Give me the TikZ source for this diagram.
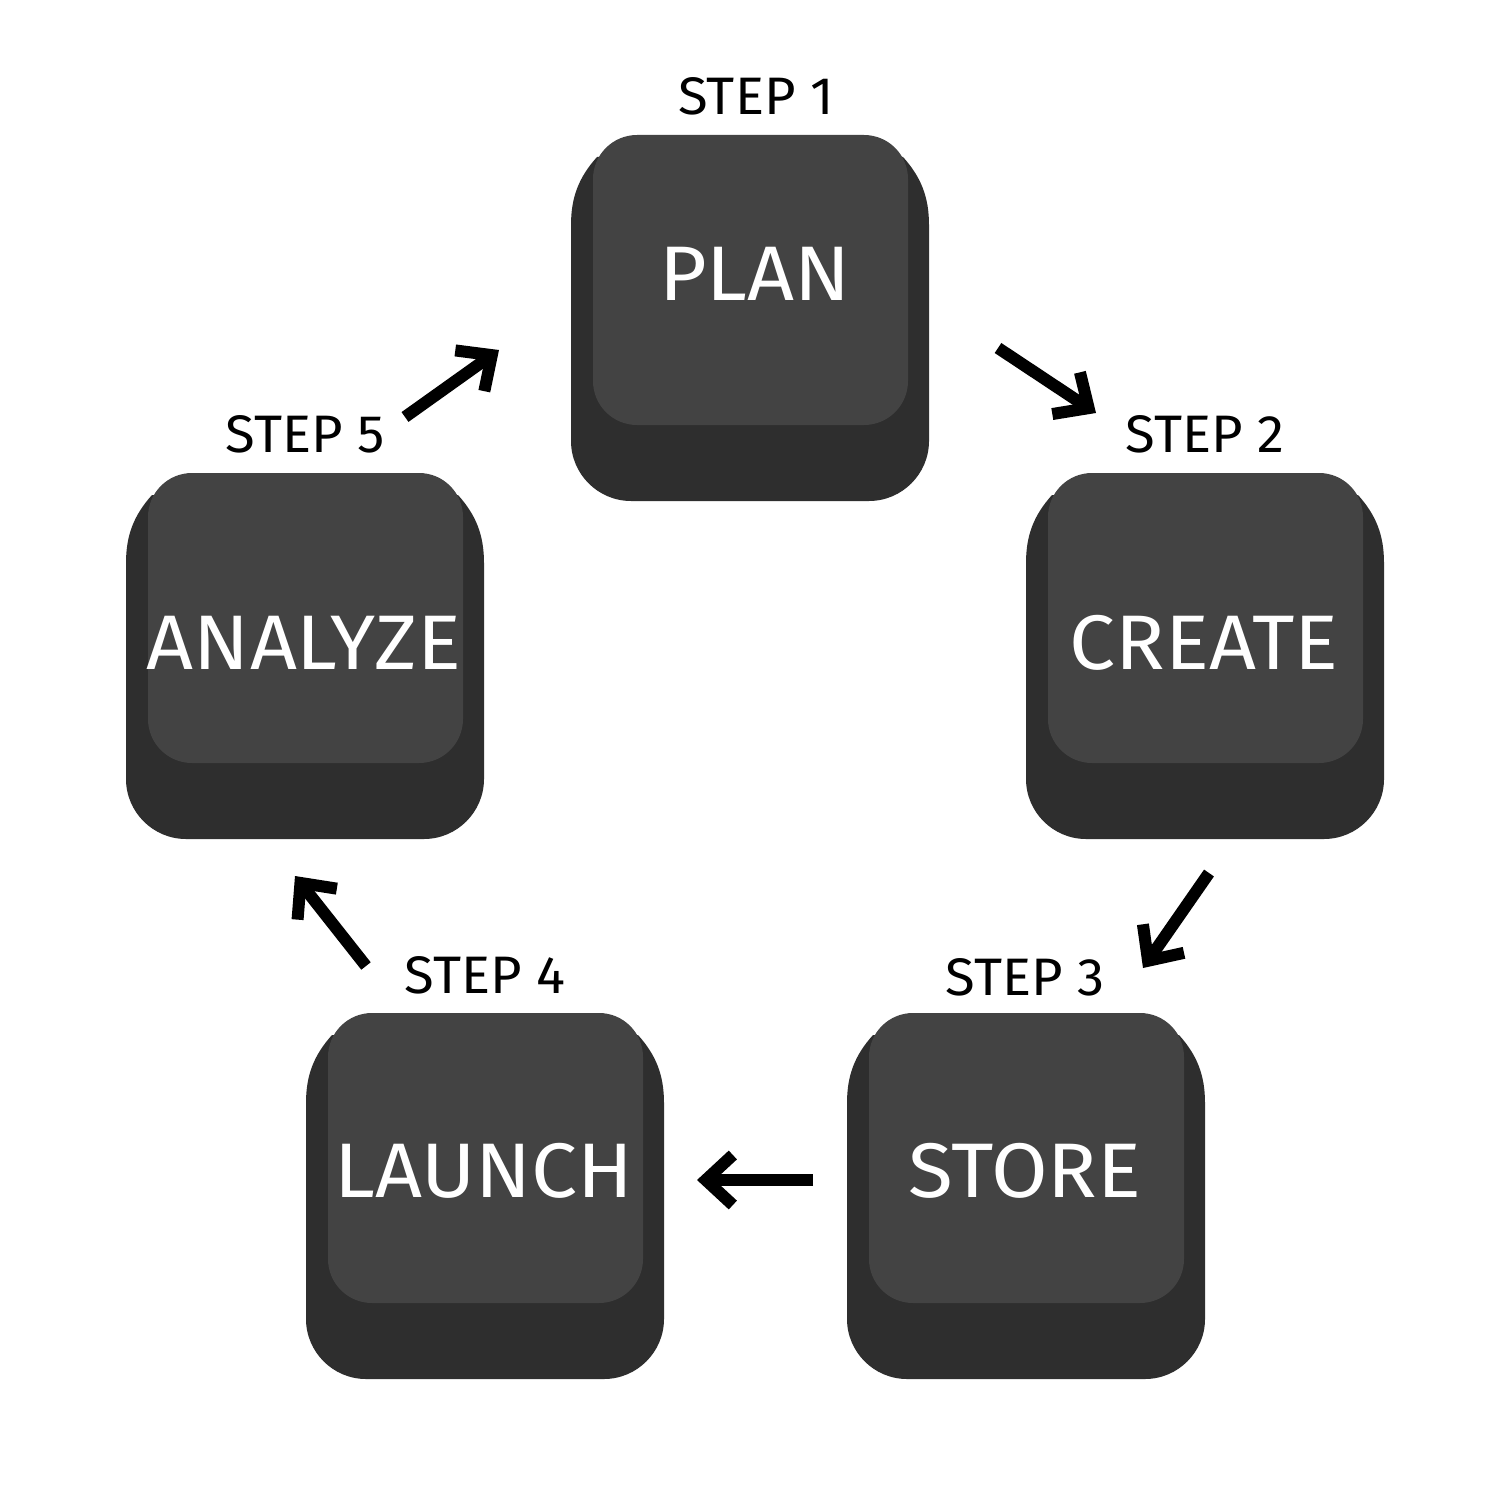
\documentclass[tikz,border=0pt]{standalone}
\usepackage{fontspec}
\setmainfont{Fira Sans}
\newfontfamily\keyfont[FakeStretch=1.06]{Fira Sans}
\newfontfamily\stepfont[FakeStretch=1.03]{Fira Sans}
\usetikzlibrary{arrows.meta}
\definecolor{keybasec}{HTML}{2E2E2E}
\definecolor{keytopc}{HTML}{434343}
\tikzset{
  keybase/.style={fill=keybasec},
  keytop/.style={fill=keytopc, rounded corners=0.44cm},
  keylabel/.style={text=white, inner sep=0pt, font=\keyfont\fontsize{22}{24}\selectfont},
  steplabel/.style={text=black, inner sep=0pt, font=\stepfont\fontsize{15}{17}\selectfont},
  flowarrow/.style={line width=0.12cm, -{Straight Barb[length=0.27cm,width=0.5cm]}}
}
\newcommand\keycap[6]{%
  \fill[keybase] ({#2+26},{#3+22}) -- ({#2+332},{#3+22})
    .. controls ({#2+350},{#3+42}) and ({#2+358},{#3+62}) .. ({#2+358},{#3+90})
    -- ({#2+358},{#3+306})
    .. controls ({#2+358},{#3+339}) and ({#2+331},{#3+366}) .. ({#2+298},{#3+366})
    -- ({#2+60},{#3+366})
    .. controls ({#2+27},{#3+366}) and ({#2},{#3+339}) .. ({#2},{#3+306})
    -- ({#2},{#3+90})
    .. controls ({#2},{#3+62}) and ({#2+8},{#3+42}) .. ({#2+26},{#3+22}) -- cycle;
  \fill[keytop] ({#2+22},#3) rectangle ({#2+337},{#3+290});
  \node[keylabel] (#1) at (#5,#6) {#4};
}
\begin{document}
\begin{tikzpicture}[x=0.01cm,y=-0.01cm]
\fill[white] (0,0) rectangle (1500,1500);
\useasboundingbox (0,0) rectangle (1500,1500);

\keycap{plan}{571}{135}{PLAN}{755}{274}
\keycap{create}{1026}{473}{CREATE}{1204}{643}
\keycap{analyze}{126}{473}{ANALYZE}{304}{643}
\keycap{store}{847}{1013}{STORE}{1025}{1171}
\keycap{launch}{306}{1013}{LAUNCH}{484}{1171}

\node[steplabel] (s1) at (756,96) {STEP 1};
\node[steplabel] (s2) at (1205,434) {STEP 2};
\node[steplabel] (s3) at (1025,977) {STEP 3};
\node[steplabel] (s4) at (485,975) {STEP 4};
\node[steplabel] (s5) at (305,434) {STEP 5};

\coordinate (a1s) at (998,348);  \coordinate (a1e) at (1096,413);
\coordinate (a2s) at (1209,873); \coordinate (a2e) at (1143,968);
\coordinate (a3s) at (813,1180); \coordinate (a3e) at (697,1180);
\coordinate (a4s) at (366,966);  \coordinate (a4e) at (295,876);
\coordinate (a5s) at (405,417);  \coordinate (a5e) at (499,350);

\draw[flowarrow] (a1s) -- (a1e);
\draw[flowarrow] (a2s) -- (a2e);
\draw[flowarrow] (a3s) -- (a3e);
\draw[flowarrow] (a4s) -- (a4e);
\draw[flowarrow] (a5s) -- (a5e);
\end{tikzpicture}
\end{document}
